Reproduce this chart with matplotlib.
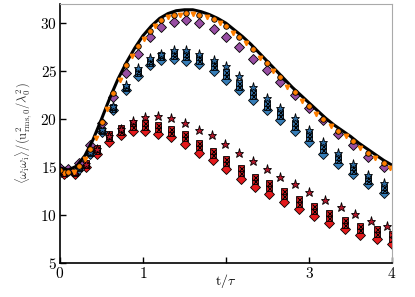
import matplotlib
matplotlib.use("Agg")
import matplotlib.pyplot as plt

plt.rcParams["mathtext.fontset"] = "cm"
plt.rcParams["font.family"] = ["DejaVu Serif"]

# reference curve
line_t = [0.0, 0.1, 0.2, 0.3, 0.4, 0.5, 0.6, 0.7, 0.8, 0.9, 1.0, 1.1, 1.2, 1.3,
          1.4, 1.5, 1.6, 1.7, 1.8, 1.9, 2.0, 2.1, 2.2, 2.3, 2.4, 2.5, 2.6, 2.7,
          2.8, 2.9, 3.0, 3.1, 3.2, 3.3, 3.4, 3.5, 3.6, 3.7, 3.8, 3.9, 4.0]
line_v = [14.9, 14.7, 15.1, 16.2, 17.9, 20.0, 22.2, 24.2, 25.9, 27.4, 28.7, 29.7,
          30.5, 31.0, 31.3, 31.4, 31.4, 31.2, 30.9, 30.5, 30.0, 29.3, 28.6, 27.8,
          26.9, 26.0, 25.1, 24.2, 23.3, 22.5, 21.7, 20.9, 20.1, 19.4, 18.8, 18.2,
          17.5, 16.9, 16.3, 15.7, 15.2]

# orange / purple / blue runs
t_a = [0.0, 0.1, 0.23, 0.36, 0.5, 0.64, 0.8, 0.94, 1.08, 1.22, 1.37, 1.52, 1.68,
       1.85, 2.0, 2.16, 2.32, 2.49, 2.65, 2.83, 3.0, 3.17, 3.35, 3.53, 3.71, 3.9]
orange_v = [14.7, 14.5, 15.1, 16.9, 19.7, 22.7, 25.6, 27.6, 29.2, 30.3, 30.9, 31.1,
            30.9, 30.4, 29.7, 28.6, 27.3, 25.8, 24.4, 22.8, 21.4, 20.0, 18.8, 17.7,
            16.5, 15.4]
t_a2 = [0.05, 0.17, 0.3, 0.43, 0.57, 0.72, 0.87, 1.01, 1.15, 1.3, 1.45, 1.6, 1.77,
        1.93, 2.08, 2.24, 2.41, 2.57, 2.74, 2.92, 3.09, 3.26, 3.44, 3.62, 3.8, 3.97]
orange2_v = [14.4, 14.5, 15.8, 18.0, 21.1, 24.1, 26.6, 28.4, 29.7, 30.6, 30.9, 31.0,
             30.6, 30.0, 29.0, 27.9, 26.4, 25.0, 23.4, 21.9, 20.5, 19.3, 18.2, 17.0,
             15.9, 14.9]
purple_v = [14.9, 14.8, 15.4, 17.3, 19.6, 22.3, 24.8, 26.8, 28.6, 29.6, 30.1, 30.3,
            30.0, 29.4, 28.6, 27.5, 26.3, 25.1, 23.9, 22.5, 21.2, 19.9, 18.5, 17.3,
            16.1, 15.0]
blue_d = [14.8, 14.6, 14.8, 16.4, 18.7, 21.0, 23.0, 24.5, 25.6, 26.2, 26.3, 26.1,
          25.7, 25.0, 24.1, 23.0, 22.0, 20.9, 19.9, 18.8, 17.6, 16.4, 15.3, 14.3,
          13.2, 12.3]
blue_x1 = [14.8, 14.6, 14.9, 16.5, 18.8, 21.1, 23.2, 24.8, 25.9, 26.5, 26.6, 26.5,
           26.1, 25.4, 24.5, 23.4, 22.4, 21.3, 20.3, 19.2, 18.0, 16.8, 15.7, 14.6,
           13.5, 12.6]
blue_x2 = [14.8, 14.6, 15.0, 16.6, 18.9, 21.3, 23.4, 25.0, 26.1, 26.7, 26.9, 26.8,
           26.5, 25.8, 24.9, 23.8, 22.8, 21.7, 20.7, 19.6, 18.4, 17.2, 16.1, 15.0,
           13.9, 12.9]
blue_s = [14.9, 14.7, 15.0, 16.6, 19.0, 21.4, 23.6, 25.3, 26.4, 26.8, 27.2, 27.2,
          26.8, 26.2, 25.5, 24.5, 23.4, 22.2, 21.2, 20.1, 18.9, 17.6, 16.5, 15.3,
          14.2, 13.3]

# red runs
t_r = [0.05, 0.18, 0.31, 0.44, 0.59, 0.73, 0.88, 1.03, 1.18, 1.34, 1.50, 1.67, 1.84,
       2.0, 2.18, 2.35, 2.52, 2.70, 2.88, 3.06, 3.24, 3.43, 3.62, 3.82, 4.0]
red_d = [14.3, 14.3, 15.0, 16.4, 17.6, 18.3, 18.8, 18.8, 18.5, 18.1, 17.4, 16.5, 15.7,
         14.8, 13.8, 12.9, 12.2, 11.4, 10.6, 9.9, 9.2, 8.5, 7.9, 7.5, 7.0]
red_x1 = [14.4, 14.4, 15.2, 16.7, 18.0, 18.7, 19.2, 19.2, 19.0, 18.6, 18.0, 17.1, 16.3,
          15.4, 14.4, 13.5, 12.8, 12.0, 11.2, 10.4, 9.7, 9.0, 8.4, 8.0, 7.5]
red_x2 = [14.5, 14.5, 15.4, 17.0, 18.4, 19.1, 19.6, 19.6, 19.4, 19.0, 18.4, 17.5, 16.7,
          15.8, 14.9, 14.0, 13.3, 12.5, 11.7, 10.9, 10.2, 9.5, 8.9, 8.5, 8.0]
t_rs = [0.05, 0.18, 0.31, 0.44, 0.59, 0.73, 0.88, 1.03, 1.18, 1.34, 1.50, 1.67, 1.83,
        1.99, 2.16, 2.32, 2.49, 2.65, 2.83, 3.0, 3.19, 3.38, 3.56, 3.75, 3.94]
red_s = [14.4, 14.5, 15.3, 16.9, 18.2, 19.0, 19.8, 20.2, 20.3, 20.1, 19.6, 18.9, 18.3,
         17.4, 16.5, 15.6, 14.8, 14.0, 13.2, 12.4, 11.6, 10.8, 10.1, 9.4, 8.9]

fig = plt.figure(figsize=(4.15, 2.97), dpi=100)
ax = fig.add_axes([0.1446, 0.1145, 0.80, 0.872])

mk = dict(ls="none", mec="k", mew=0.6)
ax.plot(t_r, red_d, marker="D", ms=4.6, color="#e41a1c", **mk)
ax.plot(t_r, red_x1, marker="s", ms=4.2, color="#d81b1f", **mk)
ax.plot(t_r, red_x1, marker="x", ms=3.6, color="k", ls="none", mew=0.7)
ax.plot(t_r, red_x2, marker="s", ms=4.2, color="#d81b1f", **mk)
ax.plot(t_r, red_x2, marker="x", ms=3.6, color="k", ls="none", mew=0.7)
ax.plot(t_rs, red_s, marker="*", ms=6.5, color="#b2182b", **mk)

ax.plot(t_a, blue_d, marker="D", ms=4.6, color="#377eb8", **mk)
ax.plot(t_a, blue_x1, marker="s", ms=4.2, color="#3577b0", **mk)
ax.plot(t_a, blue_x1, marker="x", ms=3.6, color="k", ls="none", mew=0.7)
ax.plot(t_a, blue_x2, marker="s", ms=4.2, color="#3577b0", **mk)
ax.plot(t_a, blue_x2, marker="x", ms=3.6, color="k", ls="none", mew=0.7)
ax.plot(t_a, blue_s, marker="*", ms=6.5, color="#2c6aa0", **mk)

ax.plot(t_a, purple_v, marker="D", ms=4.6, color="#984ea3", **mk)
ax.plot(line_t, line_v, color="k", lw=2.2)
ax.plot(t_a2, orange2_v, marker="v", ms=3.2, color="#ff7f00", ls="none", mec="#ff7f00")
ax.plot(t_a, orange_v, marker="o", ms=4, color="#ff7f00", **mk)

ax.set_xlim(0, 4)
ax.set_ylim(5, 32)
ax.set_xticks([0, 1, 2, 3, 4])
ax.set_xticklabels(["$0$", "$1$", "", "$3$", "$4$"], fontsize=11)
ax.set_yticks([5, 10, 15, 20, 25, 30])
ax.set_yticklabels(["$5$", "$10$", "$15$", "$20$", "$25$", "$30$"], fontsize=11)
ax.tick_params(direction="in", length=4, width=1, pad=2)
ax.set_xlabel(r"$\mathrm{t}/\tau$", fontsize=10, labelpad=-6)
ax.set_ylabel(r"$\langle\omega_{\mathrm{i}}\omega_{\mathrm{i}}\rangle/(\mathrm{u}^2_{\mathrm{rms},0}/\lambda_0^2)$",
              fontsize=9, color="#333333", labelpad=4)
for s in ["top", "right"]:
    ax.spines[s].set_color("#aaaaaa")
for s in ["left", "bottom"]:
    ax.spines[s].set_linewidth(1.2)

fig.savefig("out.png", dpi=100)
